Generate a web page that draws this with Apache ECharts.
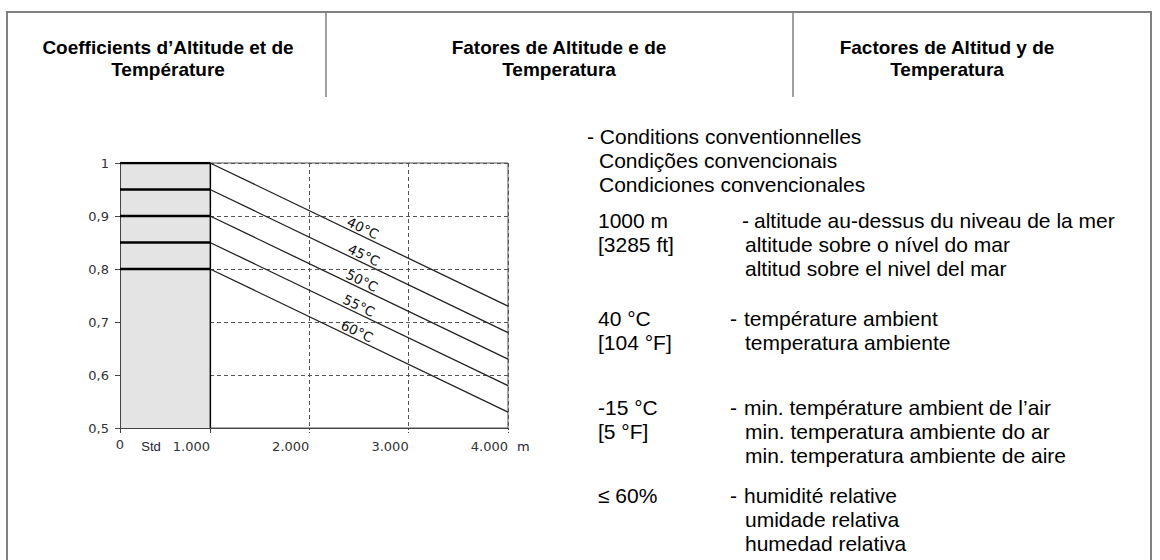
<!DOCTYPE html>
<html>
<head>
<meta charset="utf-8">
<script src="https://cdn.jsdelivr.net/npm/echarts@6/dist/echarts.min.js"></script>
<style>
  html, body { margin: 0; padding: 0; background: #fff; }
  #chart { width: 1160px; height: 560px; }
</style>
</head>
<body>
<div id="chart"></div>
<script>
// ---- data -------------------------------------------------------------
// Altitude (m) and the derating factor for each ambient temperature.
const altitudeTickLabels = { 0: '0', 1000: '1.000', 2000: '2.000', 3000: '3.000', 4000: '4.000' };
const stdLabel = 'Std';
const altitudeUnit = 'm';
const factorTickLabels = ['0,5', '0,6', '0,7', '0,8', '0,9', '1'];
const factorTickValues = [0.5, 0.6, 0.7, 0.8, 0.9, 1];
const temperatures = ['40°C', '45°C', '50°C', '55°C', '60°C'];
const factorStd = [1, 0.95, 0.9, 0.85, 0.8];        // constant up to 1000 m (Std)
const factorAt4000 = [0.73, 0.68, 0.63, 0.58, 0.53]; // value reached at 4000 m

// Header and note texts
const headers = [
  ['Coefficients d’Altitude et de', 'Température'],
  ['Fatores de Altitude e de', 'Temperatura'],
  ['Factores de Altitud y de', 'Temperatura']
];
const conditionsTitle = ['- Conditions conventionnelles', 'Condições convencionais', 'Condiciones convencionales'];
const conditionValues = [
  ['1000 m', '[3285 ft]'],
  ['40 °C', '[104 °F]'],
  ['-15 °C', '[5 °F]'],
  ['≤ 60%']
];
const conditionTexts = [
  ['altitude au-dessus du niveau de la mer', 'altitude sobre o nível do mar', 'altitud sobre el nivel del mar'],
  ['température ambient', 'temperatura ambiente'],
  ['min. température ambient de l’air', 'min. temperatura ambiente do ar', 'min. temperatura ambiente de aire'],
  ['humidité relative', 'umidade relativa', 'humedad relativa']
];

// ---- layout -----------------------------------------------------------
const AXIS_FONT = '"DejaVu Sans", Verdana, sans-serif';
const TEXT_FONT = '"Liberation Sans", Arial, sans-serif';
const plotTop = 163, plotHeight = 265;
const stdGrid = { left: 120, top: plotTop, width: 90, height: plotHeight };
const altGrid = { left: 210, top: plotTop, width: 298, height: plotHeight };
const curveLabelAlt = [2540, 2550, 2530, 2500, 2480];
const labelLift = 0.016;
const slopeDeg = Math.atan((0.27 / 0.5 * plotHeight) / altGrid.width) * 180 / Math.PI;

function factorLabel(v) {
  const i = factorTickValues.findIndex(t => Math.abs(t - v) < 1e-6);
  return i >= 0 ? factorTickLabels[i] : '';
}

// flat part (0 .. 1000 m) drawn as thick bars across the Std zone
const stdSeries = temperatures.map((t, i) => ({
  type: 'line', name: t + ' std', xAxisIndex: 0, yAxisIndex: 0,
  data: [[0, factorStd[i]], [1000, factorStd[i]]],
  symbol: 'none', silent: true, animation: false,
  lineStyle: { color: '#000', width: 2.4 }
}));

// derating part (1000 .. 4000 m)
const altSeries = temperatures.map((t, i) => {
  const xl = curveLabelAlt[i];
  const yl = factorStd[i] + (factorAt4000[i] - factorStd[i]) * (xl - 1000) / 3000 + labelLift;
  return {
    type: 'line', name: t, xAxisIndex: 1, yAxisIndex: 1,
    data: [[1000, factorStd[i]], [4000, factorAt4000[i]]],
    symbol: 'none', silent: true, animation: false,
    lineStyle: { color: '#222', width: 1.3 },
    markPoint: {
      symbol: 'circle', symbolSize: 1, silent: true, animation: false,
      itemStyle: { color: 'rgba(0,0,0,0)' },
      label: {
        show: true, position: 'inside', formatter: t, rotate: -slopeDeg,
        fontFamily: AXIS_FONT, fontSize: 13.5, color: '#111'
      },
      data: [{ coord: [xl, yl] }]
    }
  };
});

// ---- frame, headers, notes -------------------------------------------
const frameColor = '#808080';
const graphics = [
  { type: 'line', shape: { x1: 7, y1: 12, x2: 1152, y2: 12 }, style: { stroke: frameColor, lineWidth: 2 } },
  { type: 'line', shape: { x1: 7, y1: 11, x2: 7, y2: 560 }, style: { stroke: frameColor, lineWidth: 2 } },
  { type: 'line', shape: { x1: 1151, y1: 11, x2: 1151, y2: 560 }, style: { stroke: frameColor, lineWidth: 2 } },
  { type: 'line', shape: { x1: 326, y1: 12, x2: 326, y2: 97 }, style: { stroke: frameColor, lineWidth: 1.5 } },
  { type: 'line', shape: { x1: 793, y1: 12, x2: 793, y2: 97 }, style: { stroke: frameColor, lineWidth: 1.5 } }
];
const headerCenters = [168, 559, 947];
headers.forEach((lines, c) => {
  lines.forEach((s, k) => {
    graphics.push({
      type: 'text', silent: true,
      style: {
        text: s, x: headerCenters[c], y: 47 + k * 22.5,
        font: 'bold 19px ' + TEXT_FONT, fill: '#000',
        textAlign: 'center', textVerticalAlign: 'middle', align: 'center', verticalAlign: 'middle'
      }
    });
  });
});
function note(s, x, y) {
  graphics.push({
    type: 'text', silent: true,
    style: {
      text: s, x: x, y: y, font: '21px ' + TEXT_FONT, fill: '#000',
      textAlign: 'left', textVerticalAlign: 'middle', align: 'left', verticalAlign: 'middle'
    }
  });
}
const lineStep = 24;
conditionsTitle.forEach((s, k) => note(s, k === 0 ? 587 : 599, 136 + k * lineStep));
const rowY = [220, 318, 407, 495];
const dashX = [742, 730, 730, 730];
const firstTextX = [754, 744, 744, 744];
conditionValues.forEach((vals, r) => {
  vals.forEach((s, k) => note(s, 598, rowY[r] + k * lineStep));
  note('-', dashX[r], rowY[r]);
  conditionTexts[r].forEach((s, k) => note(s, k === 0 ? firstTextX[r] : 745, rowY[r] + k * lineStep));
});

// ---- chart -------------------------------------------------------------
const chart = echarts.init(document.getElementById('chart'), null, { renderer: 'svg' });
chart.setOption({
  backgroundColor: '#fff',
  animation: false,
  grid: [
    Object.assign({ show: true, backgroundColor: '#e4e4e4', borderWidth: 0 }, stdGrid),
    Object.assign({ show: true, backgroundColor: 'rgba(0,0,0,0)', borderColor: '#555', borderWidth: 1 }, altGrid)
  ],
  xAxis: [
    {
      type: 'value', gridIndex: 0, min: 0, max: 1000, interval: 1000,
      axisLine: { show: true, lineStyle: { color: '#444', width: 1 } },
      axisTick: { show: true, length: 5, lineStyle: { color: '#444' } },
      axisLabel: {
        margin: 10, fontFamily: AXIS_FONT, fontSize: 13, color: '#333',
        formatter: v => (v === 0 ? altitudeTickLabels[0] : '')
      },
      splitLine: { show: false }
    },
    {
      type: 'value', gridIndex: 1, min: 1000, max: 4000, interval: 1000,
      name: altitudeUnit, nameLocation: 'end', nameGap: 9,
      nameTextStyle: { fontFamily: AXIS_FONT, fontSize: 13, color: '#1b2433', verticalAlign: 'top', padding: [12, 0, 0, 0] },
      axisLine: { show: true, lineStyle: { color: '#444', width: 1 } },
      axisTick: { show: true, length: 5, lineStyle: { color: '#444', type: [2, 2] } },
      axisLabel: {
        margin: 12, align: 'right', fontFamily: AXIS_FONT, fontSize: 13, color: '#333',
        showMinLabel: true, showMaxLabel: true,
        formatter: v => (v === 1000 ? '{s|' + stdLabel + '}' + altitudeTickLabels[1000] : altitudeTickLabels[v]),
        rich: {
          s: { fontFamily: TEXT_FONT, fontSize: 13, color: '#1b2433', padding: [0, 12, 0, 0] }
        }
      },
      splitLine: { show: true, lineStyle: { color: '#555', type: [4, 3], width: 1 } }
    }
  ],
  yAxis: [
    {
      type: 'value', gridIndex: 0, min: 0.5, max: 1, interval: 0.1,
      axisLine: { show: true, lineStyle: { color: '#444', width: 1 } },
      axisTick: { show: true, length: 5, lineStyle: { color: '#444' } },
      axisLabel: { margin: 11, fontFamily: AXIS_FONT, fontSize: 13, color: '#333', formatter: factorLabel },
      splitLine: { show: false }
    },
    {
      type: 'value', gridIndex: 1, min: 0.5, max: 1, interval: 0.1,
      axisLine: { show: true, lineStyle: { color: '#000', width: 1.2 } },
      axisTick: { show: false },
      axisLabel: { show: false },
      splitLine: { show: true, lineStyle: { color: '#555', type: [4, 3], width: 1 } }
    }
  ],
  series: stdSeries.concat(altSeries),
  graphic: graphics
});
</script>
</body>
</html>
